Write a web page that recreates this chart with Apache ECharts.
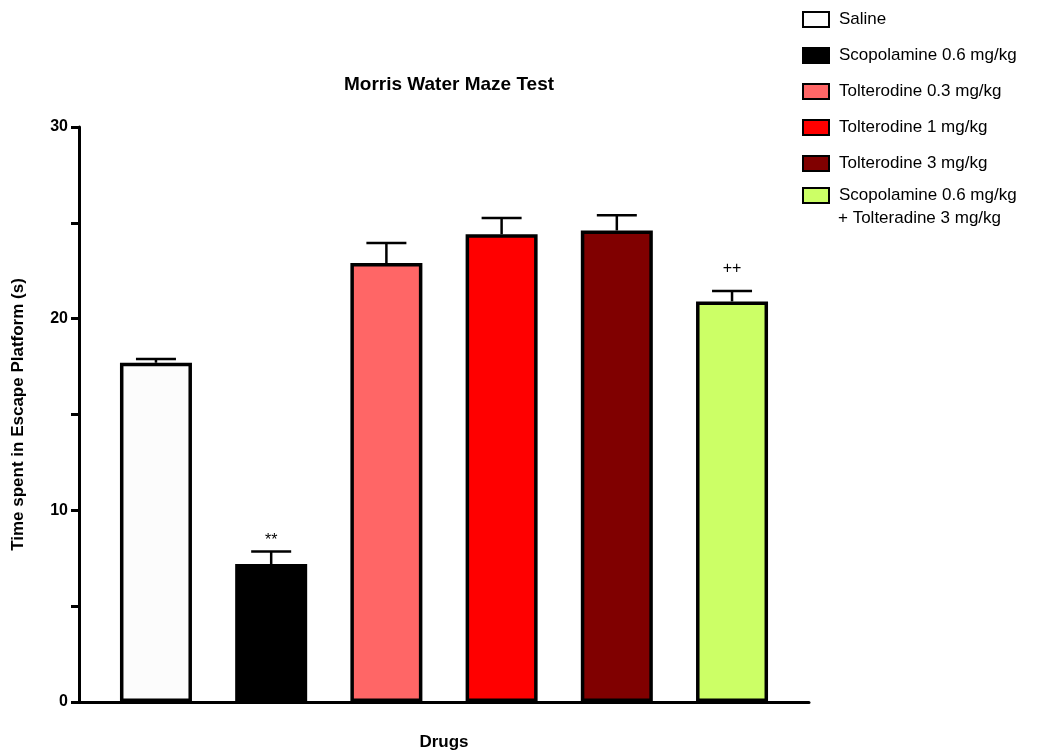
<!DOCTYPE html>
<html>
<head>
<meta charset="utf-8">
<script src="https://cdn.jsdelivr.net/npm/echarts@6/dist/echarts.min.js"></script>
<style>
html,body{margin:0;padding:0;background:#fff;}
#main{width:1061px;height:753px;}
</style>
</head>
<body>
<div id="main"></div>
<script>
const groups = ['Saline', 'Scopolamine 0.6 mg/kg', 'Tolterodine 0.3 mg/kg', 'Tolterodine 1 mg/kg', 'Tolterodine 3 mg/kg', 'Scopolamine 0.6 mg/kg + Tolteradine 3 mg/kg'];
const means = [17.7, 7.2, 22.9, 24.4, 24.6, 20.9];
const sems = [0.2, 0.65, 1.05, 0.85, 0.8, 0.55];
const marks = ['', '**', '', '', '', '++'];
const colors = ['#FCFCFC', '#000000', '#FF6666', '#FF0000', '#800000', '#CCFF66'];
const yTicks = [0, 10, 20, 30];

const FONT = 'Liberation Sans, Arial, Helvetica, sans-serif';
const markGap = { '**': 3, '++': 14 };
const chart = echarts.init(document.getElementById('main'));

const barSeries = groups.map((g, i) => ({
  name: g,
  type: 'bar',
  barWidth: 72,
  barGap: '-100%',
  data: [[i, means[i]]],
  itemStyle: { color: colors[i], borderColor: '#000', borderWidth: 3.5 },
  z: 2
}));

const errSeries = {
  type: 'custom',
  data: means.map((m, i) => [i, m, sems[i], i]),
  z: 3,
  renderItem: function (params, api) {
    const x = api.value(0), v = api.value(1), e = api.value(2), idx = api.value(3);
    const base = api.coord([x, v]);
    const top = api.coord([x, v + e]);
    const children = [
      { type: 'line', shape: { x1: base[0], y1: base[1], x2: top[0], y2: top[1] }, style: { stroke: '#000', lineWidth: 2.5 } },
      { type: 'line', shape: { x1: top[0] - 20, y1: top[1], x2: top[0] + 20, y2: top[1] }, style: { stroke: '#000', lineWidth: 2.5 } }
    ];
    const m = marks[idx];
    if (m) {
      children.push({ type: 'text', x: top[0], y: top[1] - markGap[m], style: { text: m, fill: '#000', font: '16px ' + FONT, align: 'center', verticalAlign: 'bottom' } });
    }
    return { type: 'group', children: children };
  }
};

const legendText = { fontFamily: FONT, fontSize: 17, color: '#000', padding: [0, 0, 0, 5] };

chart.setOption({
  animation: false,
  backgroundColor: '#fff',
  title: {
    text: 'Morris Water Maze Test',
    left: 444, top: 70, textAlign: 'center',
    textStyle: { fontFamily: FONT, fontWeight: 'bold', fontSize: 19, color: '#000' }
  },
  legend: [{
    data: groups.slice(0, 5),
    orient: 'vertical',
    left: 797, top: 6,
    itemWidth: 26, itemHeight: 15, itemGap: 19,
    icon: 'rect',
    textStyle: legendText
  }, {
    data: [groups[5]],
    orient: 'vertical',
    left: 797, top: 182,
    itemWidth: 26, itemHeight: 15,
    icon: 'rect',
    formatter: () => 'Scopolamine 0.6 mg/kg',
    textStyle: legendText
  }],
  graphic: [{
    type: 'text', left: 838, top: 210,
    style: { text: '+ Tolteradine 3 mg/kg', fill: '#000', font: '17px ' + FONT }
  }],
  grid: { left: 79, right: 252, top: 127, bottom: 51, containLabel: false, outerBoundsMode: 'none' },
  xAxis: {
    type: 'value', min: -0.668, max: 5.668,
    name: 'Drugs', nameLocation: 'middle', nameGap: 32,
    nameTextStyle: { fontFamily: FONT, fontWeight: 'bold', fontSize: 17, color: '#000' },
    axisLine: { show: true, onZero: false, lineStyle: { color: '#000', width: 3 } },
    axisTick: { show: false }, axisLabel: { show: false }, splitLine: { show: false }
  },
  yAxis: {
    type: 'value', min: yTicks[0], max: yTicks[yTicks.length - 1], interval: 10,
    name: 'Time spent in Escape Platform (s)', nameLocation: 'middle', nameGap: 52,
    nameTextStyle: { fontFamily: FONT, fontWeight: 'bold', fontSize: 17, color: '#000' },
    axisLine: { show: true, onZero: false, lineStyle: { color: '#000', width: 3 } },
    axisTick: { show: true, inside: false, length: 8, lineStyle: { color: '#000', width: 3 } },
    minorTick: { show: true, splitNumber: 2, length: 8, lineStyle: { color: '#000', width: 3 } },
    axisLabel: { fontFamily: FONT, fontWeight: 'bold', fontSize: 16, color: '#000', margin: 11 },
    splitLine: { show: false }
  },
  series: barSeries.concat([errSeries])
});
</script>
</body>
</html>
